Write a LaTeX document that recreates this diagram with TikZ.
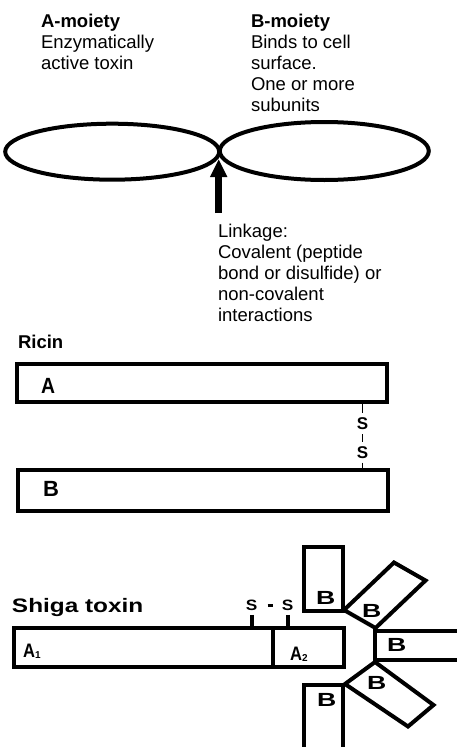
\documentclass[tikz,border=0pt]{standalone}
\usepackage{fontspec}
\setmainfont{Liberation Sans}
\usepackage{graphicx}
\usetikzlibrary{shapes.geometric,arrows.meta}

\begin{document}
\begin{tikzpicture}[x=1pt,y=-1pt,
  txt/.style={font=\fontsize{18.5}{21}\selectfont, align=left, anchor=base west, inner sep=0pt, outer sep=0pt},
  hd/.style={txt, font=\fontsize{18.5}{21}\selectfont\bfseries},
  bar/.style={draw, line width=4pt, rectangle, inner sep=0pt, outer sep=0pt, anchor=north west},
  lobe/.style={draw, line width=4pt, ellipse, inner sep=0pt, outer sep=0pt},
  lab/.style={inner sep=0pt, anchor=base west, font=\bfseries\fontsize{22}{22}\selectfont},
  sub/.style={inner sep=0pt, anchor=base west, font=\bfseries\fontsize{19.5}{19.5}\selectfont},
  blab/.style={inner sep=0pt, anchor=base west, font=\bfseries\fontsize{19}{19}\selectfont},
  sulf/.style={inner sep=0pt, font=\bfseries\fontsize{17}{17}\selectfont},
  sulfw/.style={inner sep=0pt, font=\bfseries\fontsize{15}{15}\selectfont},
  bond/.style={line width=1.5pt},
  stub/.style={line width=4pt},
  outline/.style={draw, line width=4pt, line join=miter}
]
\useasboundingbox (0,0) rectangle (457,747);
\clip (0,0) rectangle (457,747);

% general A-B toxin scheme (multi-line nodes sit on the baseline of their last line)
\node[txt] (amoiety) at (41,69) {\textbf{A-moiety}\\Enzymatically\\active toxin};
\node[txt] (bmoiety) at (251,111) {\textbf{B-moiety}\\Binds to cell\\surface.\\One or more\\subunits};
\node[lobe, minimum width=214pt, minimum height=56pt] (lobeA) at (112.2,151.7) {};
\node[lobe, minimum width=209pt, minimum height=58pt] (lobeB) at (324.3,151) {};
\node[txt] (linkage) at (218,321) {Linkage:\\Covalent (peptide\\bond or disulfide) or\\non-covalent\\interactions};
\coordinate (junction) at (218.7,159);
\coordinate (foot) at (218.7,213);
\draw[line width=7pt, -{Triangle[length=18pt,width=16pt]}] (foot) -- (junction);

% ricin
\node[hd] (ricin) at (18,348) {Ricin};
\node[bar, minimum width=370pt, minimum height=38pt] (ricA) at (17,364) {};
\node[lab] (ricAlab) at (41,393) {\scalebox{0.88}[1]{A}};
\node[bar, minimum width=370pt, minimum height=40.5pt] (ricB) at (18,470) {};
\node[lab] (ricBlab) at (43,496.5) {B};
\node[sulf] (s1) at (362.5,424) {S};
\node[sulf] (s2) at (362.5,452.5) {S};
\draw[bond, shorten >=5pt] (ricA.south -| s1.north) -- (s1.north);
\draw[bond, shorten <=4pt, shorten >=4pt] (s1.south) -- (s2.north);
\draw[bond, shorten <=4pt] (s2.south) -- (ricB.north -| s2.south);

% shiga toxin
\node[hd, font=\fontsize{19.5}{21}\selectfont\bfseries] (shiga) at (12,612) {\scalebox{1.25}[1]{Shiga toxin}};
\node[bar, minimum width=258.7pt, minimum height=39pt] (a1) at (14,628) {};
\node[bar, minimum width=70.8pt, minimum height=39pt] (a2) at (272.7,628) {};
\node[sub] (a1lab) at (23,657.5) {\scalebox{0.85}[1]{A}\raisebox{-0.5pt}{\fontsize{10}{10}\selectfont 1}};
\node[sub] (a2lab) at (290,660) {\scalebox{0.85}[1]{A}\raisebox{-1.5pt}{\fontsize{10}{10}\selectfont 2}};
\node[sulfw] (s3) at (251.7,605.3) {\scalebox{1.15}[1]{S}};
\node[sulfw] (s4) at (287.7,605.3) {\scalebox{1.15}[1]{S}};
\draw[stub, shorten <=4pt] (s3.south) -- (s3.south |- a1.north);
\draw[stub, shorten <=4pt] (s4.south) -- (s4.south |- a2.north);
\draw[line width=3.5pt, shorten <=10pt, shorten >=9pt] (s3.east) -- (s4.west);

% pentameric B subunits
\node[bar, minimum width=39pt, minimum height=63.5pt] (bTop) at (304,547) {};
\draw[outline] (344,610) -- (394,562.5) -- (425.5,580.5) -- (375.5,628) -- cycle;
\node[bar, minimum width=100pt, minimum height=29pt] (bRight) at (375,631) {};
\draw[outline] (375,662) -- (345,684) -- (408,726.5) -- (433.5,705) -- cycle;
\node[bar, minimum width=39pt, minimum height=80pt] (bBottom) at (304,685) {};
\node[blab] (b1) at (316,604) {\scalebox{1.4}[1]{B}};
\node[blab] (b2) at (362,617) {\scalebox{1.4}[1]{B}};
\node[blab] (b3) at (387,651.5) {\scalebox{1.4}[1]{B}};
\node[blab] (b4) at (367,689) {\scalebox{1.4}[1]{B}};
\node[blab] (b5) at (317,706.5) {\scalebox{1.4}[1]{B}};
\end{tikzpicture}
\end{document}
